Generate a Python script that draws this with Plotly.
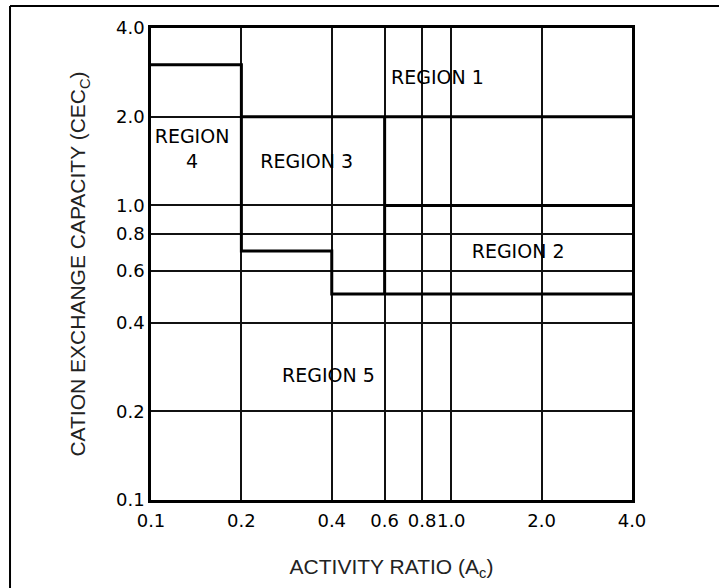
import plotly.graph_objects as go

# Axis tick values and labels (log-log chart)
x_ticks = [0.1, 0.2, 0.4, 0.6, 0.8, 1.0, 2.0, 4.0]
x_tick_text = ["0.1", "0.2", "0.4", "0.6", "0.8", "1.0", "2.0", "4.0"]
y_ticks = [0.1, 0.2, 0.4, 0.6, 0.8, 1.0, 2.0, 4.0]
y_tick_text = ["0.1", "0.2", "0.4", "0.6", "0.8", "1.0", "2.0", "4.0"]

# Region boundary polylines (activity ratio, CEC)
step_x = [0.1, 0.2, 0.2, 0.4, 0.4, 4.0]
step_y = [3.0, 3.0, 0.7, 0.7, 0.5, 0.5]
upper_x = [0.2, 4.0]
upper_y = [2.0, 2.0]
divider_x = [0.6, 0.6]
divider_y = [2.0, 0.5]
region2_top_x = [0.6, 4.0]
region2_top_y = [1.0, 1.0]

# Region labels and their anchor points
region_names = ["REGION 1", "REGION 2", "REGION 3", "REGION<br>4", "REGION 5"]
region_x = [0.9, 1.67, 0.33, 0.137, 0.39]
region_y = [2.67, 0.69, 1.39, 1.53, 0.262]

fig = go.Figure()

bold = dict(color="black", width=3)
for bx, by in [(step_x, step_y), (upper_x, upper_y),
               (divider_x, divider_y), (region2_top_x, region2_top_y)]:
    fig.add_trace(go.Scatter(x=bx, y=by, mode="lines", line=bold,
                             hoverinfo="skip", showlegend=False))

fig.add_trace(go.Scatter(
    x=region_x, y=region_y, mode="text", text=region_names,
    textposition="middle center",
    textfont=dict(family="DejaVu Sans", size=19, color="black"),
    hoverinfo="skip", showlegend=False))

axis_common = dict(
    type="log",
    showline=True, linecolor="black", linewidth=2.6, mirror=True,
    showgrid=True, gridcolor="#111111", gridwidth=1.6,
    zeroline=False, ticks="", tickangle=0,
    tickfont=dict(family="DejaVu Sans", size=18, color="black"),
)

fig.update_xaxes(
    **axis_common,
    range=[-1, 0.60206],
    tickvals=x_ticks, ticktext=x_tick_text,
    ticklabelstandoff=3,
    title=dict(text="ACTIVITY RATIO (A<sub>c</sub>)",
               font=dict(family="Liberation Sans", size=21, color="#222"),
               standoff=29),
)
fig.update_yaxes(
    **axis_common,
    range=[-1, 0.60206],
    tickvals=y_ticks, ticktext=y_tick_text,
    title=dict(text="CATION EXCHANGE CAPACITY (CEC<sub>C</sub>)",
               font=dict(family="Liberation Sans", size=21, color="#222"),
               standoff=25),
)

# Outer frame lines (top and left edges of the figure box)
frame = dict(color="black", width=2)
fig.add_shape(type="line", xref="paper", yref="paper",
              x0=-0.2931, x1=1.2, y0=1.0466, y1=1.0466, line=frame)
fig.add_shape(type="line", xref="paper", yref="paper",
              x0=-0.2931, x1=-0.2931, y0=1.0466, y1=-0.2, line=frame)

fig.update_layout(
    width=719, height=588,
    margin=dict(l=151, r=87, t=28, b=88, autoexpand=False),
    paper_bgcolor="white", plot_bgcolor="white",
    showlegend=False,
)

fig.write_html("out.html")
